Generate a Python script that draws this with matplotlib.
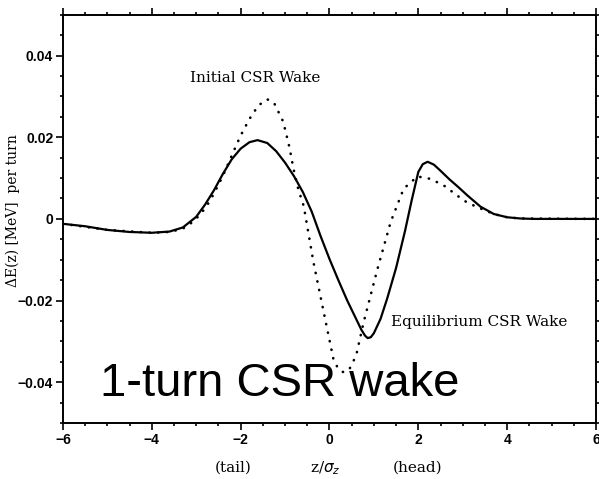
import numpy as np
import matplotlib.pyplot as plt
from matplotlib.ticker import MultipleLocator

# equilibrium CSR wake (solid)
z_eq = [-6.0, -5.5, -5.0, -4.5, -4.0, -3.6, -3.3, -3.0, -2.8, -2.6, -2.4, -2.2,
        -2.0, -1.8, -1.62, -1.4, -1.2, -1.0, -0.8, -0.6, -0.4, -0.2, 0.0, 0.2,
        0.4, 0.6, 0.72, 0.8, 0.86, 0.93, 1.0, 1.15, 1.3, 1.5, 1.7, 1.85, 2.0,
        2.1, 2.21, 2.35, 2.5, 2.7, 2.9, 3.1, 3.4, 3.7, 4.0, 4.3, 4.6, 5.0, 6.0]
dE_eq = [-0.0012, -0.0018, -0.0027, -0.0032, -0.0034, -0.0031, -0.0021, 0.0005,
         0.0035, 0.0070, 0.0110, 0.0146, 0.0172, 0.0188, 0.0193, 0.0186, 0.0166,
         0.0138, 0.0105, 0.0066, 0.0018, -0.0042, -0.0098, -0.0150, -0.0200,
         -0.0245, -0.0272, -0.0286, -0.0292, -0.0290, -0.0280, -0.0245, -0.0195,
         -0.0120, -0.0030, 0.0045, 0.0115, 0.0134, 0.0140, 0.0133, 0.0118,
         0.0097, 0.0078, 0.0058, 0.0030, 0.0012, 0.0004, 0.0001, 0.0, 0.0, 0.0]

# initial CSR wake (dotted)
z_init = [-6.0, -5.0, -4.0, -3.6, -3.3, -3.07, -2.9, -2.76, -2.6, -2.4, -2.2,
          -2.0, -1.8, -1.6, -1.4, -1.25, -1.04, -0.9, -0.81, -0.7, -0.58, -0.36,
          -0.13, 0.09, 0.2, 0.32, 0.45, 0.6, 0.77, 1.08, 1.38, 1.67, 1.98, 2.28,
          2.6, 2.89, 3.1, 3.41, 3.7, 4.0, 4.3, 6.0]
dE_init = [-0.0012, -0.0027, -0.0034, -0.0032, -0.0024, -0.0007, 0.0012, 0.0032,
           0.0062, 0.0105, 0.0155, 0.0204, 0.0245, 0.0278, 0.0293, 0.0285,
           0.0238, 0.0175, 0.0123, 0.0072, 0.0032, -0.0106, -0.0228, -0.0344,
           -0.0368, -0.0376, -0.0368, -0.0335, -0.0253, -0.0123, -0.0007, 0.0074,
           0.0104, 0.0098, 0.0080, 0.0056, 0.0040, 0.0025, 0.0012, 0.0004,
           0.0001, 0.0]

xticks = [-6, -4, -2, 0, 2, 4, 6]
yticks = [-0.04, -0.02, 0, 0.02, 0.04]
ytick_labels = ['\u22120.04', '\u22120.02', '0', '0.02', '0.04']
xtick_labels = ['\u22126', '\u22124', '\u22122', '0', '2', '4', '6']

fig = plt.figure(figsize=(5.99, 4.79), dpi=100)
ax = fig.add_axes([0.105, 0.117, 0.89, 0.852])

ax.plot(z_eq, dE_eq, color='black', lw=1.6)
ax.plot(z_init, dE_init, color='black', lw=1.9, linestyle=(0, (0.1, 3.2)),
        dash_capstyle='round')

ax.set_xlim(-6, 6)
ax.set_ylim(-0.05, 0.05)
ax.set_xticks(xticks)
ax.set_xticklabels(xtick_labels)
ax.set_yticks(yticks)
ax.set_yticklabels(ytick_labels)
ax.xaxis.set_minor_locator(MultipleLocator(0.5))
ax.yaxis.set_minor_locator(MultipleLocator(0.005))
ax.tick_params(which='both', direction='out', top=True, right=True,
               width=1.2, labelsize=10)
ax.tick_params(which='major', length=5, pad=2)
ax.tick_params(which='minor', length=2.5)
for lab in ax.get_xticklabels() + ax.get_yticklabels():
    lab.set_fontfamily('Liberation Sans')
    lab.set_fontweight('bold')
for s in ax.spines.values():
    s.set_linewidth(1.4)

serif = 'DejaVu Serif'
ax.text(-3.14, 0.0346, 'Initial CSR Wake', family=serif, fontsize=11,
        va='center', ha='left')
ax.text(1.38, -0.0253, 'Equilibrium CSR Wake', family=serif, fontsize=11,
        va='center', ha='left')
ax.text(-5.17, -0.0434, '1-turn CSR wake', family='Liberation Sans',
        fontsize=34, va='baseline', ha='left')

tr = ax.get_xaxis_transform()
ax.text(-2.17, -0.11, '(tail)', family=serif, fontsize=11, ha='center',
        va='center', transform=tr)
ax.text(-0.1, -0.11, r'z/$\sigma_z$', family=serif, fontsize=11, ha='center',
        va='center', transform=tr)
ax.text(1.99, -0.11, '(head)', family=serif, fontsize=11, ha='center',
        va='center', transform=tr)
ax.text(-0.094, 0.52, '\u0394E(z) [MeV]  per turn', family=serif, fontsize=10,
        rotation=90, ha='center', va='center', transform=ax.transAxes)

fig.savefig('out.png', dpi=100)
